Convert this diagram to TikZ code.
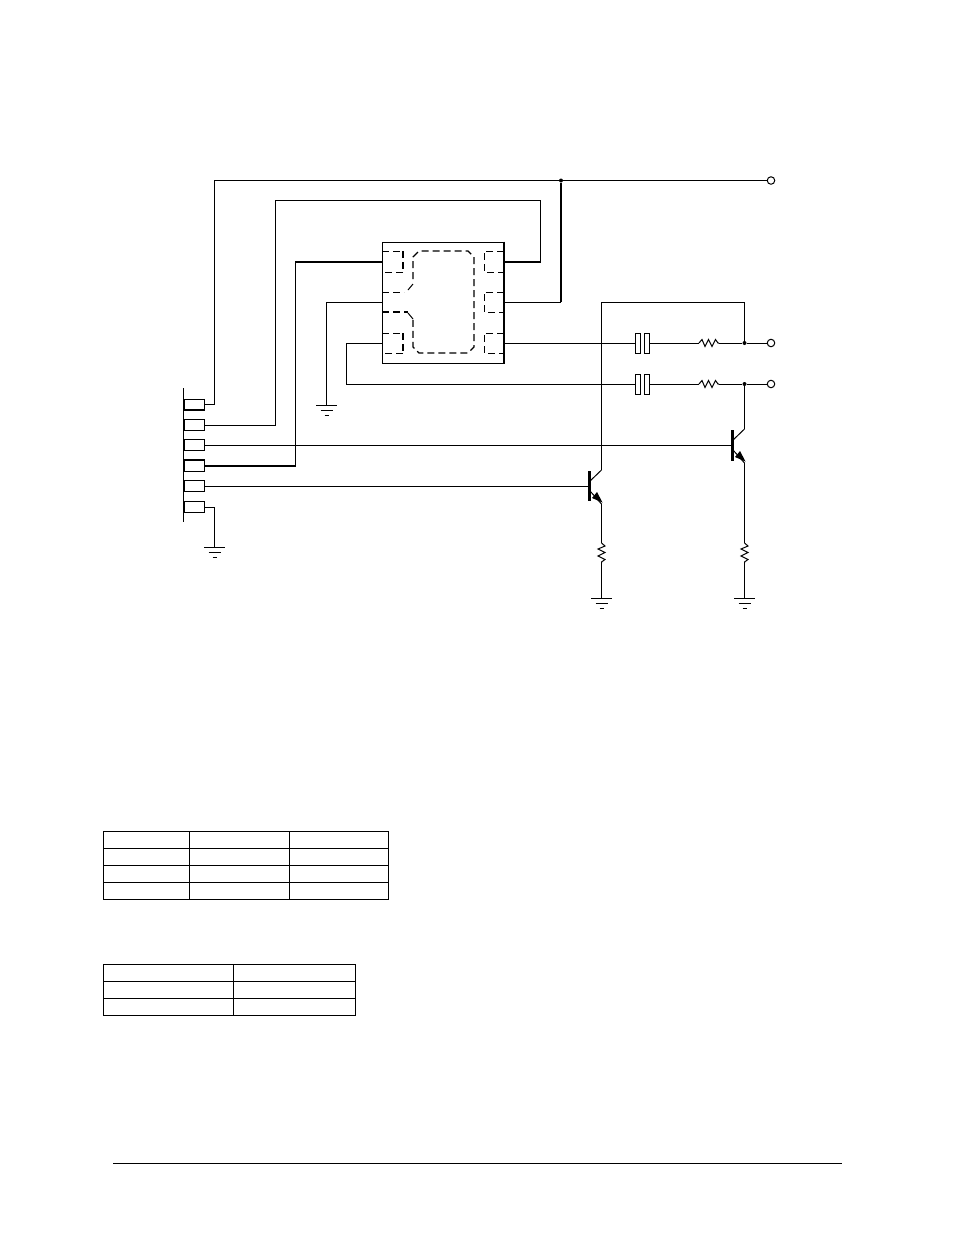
\documentclass[tikz,border=0pt]{standalone}
\usetikzlibrary{arrows.meta}
\tikzset{
  wire/.style={line width=1pt,line join=miter},
  heavy/.style={line width=1.8pt},
  dashline/.style={line width=1pt,dash pattern=on 7pt off 4pt},
  termcirc/.style={circle,draw,line width=1pt,fill=white,minimum size=7.5pt,inner sep=0pt},
  junct/.style={circle,fill=black,minimum size=4pt,inner sep=0pt},
  capplate/.style={draw,line width=1pt,fill=white,minimum width=5pt,minimum height=20pt,inner sep=0pt},
  pinbox/.style={draw,line width=1pt,minimum width=20pt,minimum height=10.5pt,inner sep=0pt},
  gnd/.pic={\draw[wire] (-10.5,0)--(10.5,0) (-6,5)--(6,5) (-2,10)--(2,10);},
  resh/.pic={\draw[wire] (0,0)--(3,-3.5)--(6,3.5)--(9.5,-3.5)--(13,3.5)--(16.5,-3.5)--(19,0)--(20,0);},
  resv/.pic={\draw[wire] (0,0)--(3.5,3)--(-3.5,6)--(3.5,9.5)--(-3.5,13)--(3.5,16.5)--(0,19)--(0,20);},
}
\begin{document}
\begin{tikzpicture}[x=1pt,y=-1pt]
\useasboundingbox[fill=white] (0,0) rectangle (954,1235);

% chip
\node[draw,line width=1pt,minimum width=122pt,minimum height=121.5pt,inner sep=0pt,anchor=north west] (chip) at (382,241.5) {};
\draw[line width=1.6pt] (504,241.5)--(504,363);
\foreach \n/\y in {L1/262,L2/302,L3/343}{\coordinate (\n) at (382,\y);}
\foreach \n/\y in {R1/262,R2/302,R3/343}{\coordinate (\n) at (504,\y);}

% dashed internals
\draw[dashline] (382,251)--(403,251);
\draw[line width=1.3pt,dash pattern=on 7pt off 4pt] (403,251)--(403,272);
\draw[dashline] (403,272)--(382,272);
\draw[dashline] (382,333)--(403,333);
\draw[line width=1.3pt,dash pattern=on 7pt off 4pt] (403,333)--(403,353);
\draw[dashline] (403,353)--(382,353);
\draw[dashline] (504,251)--(484,251)--(484,272)--(504,272);
\draw[dashline] (504,292)--(484,292)--(484,312)--(504,312);
\draw[dashline] (504,333)--(484,333)--(484,353)--(504,353);
\draw[dashline] (382,292)--(404,292);
\draw[wire] (408,290)--(413,284);
\draw[line width=1.2pt,dash pattern=on 7pt off 4pt] (413,279)--(413,257)--(419,251)--(468,251)--(474,257)--(474,347)--(468,353)--(419,353)--(413,347)--(413,319);
\draw[wire] (413,319)--(408,313);
\draw[line width=1.6pt,dash pattern=on 7pt off 4pt] (382,312)--(408,312);

% connector
\coordinate (barT) at (183.5,388);
\coordinate (barB) at (183.5,522);
\draw[wire] (barT)--(barB);
\foreach \n/\y in {1/404.5,2/425,3/445,4/466,5/486,6/507}{
  \node[pinbox,anchor=west] (P\n) at (183.5,\y) {};
  \draw[line width=1.6pt] (P\n.north east)--(P\n.south east);
}
\draw[line width=1.6pt] (P1.south west)--(P1.south east);
\draw[line width=1.6pt] (P4.north west)--(P4.north east);

% terminals
\node[termcirc] (T1) at (771,180.5) {};
\node[termcirc] (T2) at (771,343) {};
\node[termcirc] (T3) at (771,384) {};
\node[junct] (J1) at (561,180.5) {};
\node[junct] (J2) at (744.5,343) {};
\node[junct] (J3) at (744.5,384) {};

% coupling capacitors
\node[capplate] (C1a) at (637.5,343) {};
\node[capplate] (C1b) at (646.5,343) {};
\node[capplate] (C2a) at (637.5,384) {};
\node[capplate] (C2b) at (646.5,384) {};

% resistors
\pic at (699,343) {resh};
\pic at (699,384) {resh};
\coordinate (RH1a) at (699,343); \coordinate (RH1b) at (719,343);
\coordinate (RH2a) at (699,384); \coordinate (RH2b) at (719,384);
\pic at (601.5,543) {resv};
\pic at (744.5,543) {resv};
\coordinate (RV1a) at (601.5,543); \coordinate (RV1b) at (601.5,563);
\coordinate (RV2a) at (744.5,543); \coordinate (RV2b) at (744.5,563);

% grounds
\pic at (214.5,547) {gnd};
\pic at (326.5,405) {gnd};
\pic at (601.5,598) {gnd};
\pic at (744.5,598) {gnd};
\coordinate (G1) at (214.5,547);
\coordinate (G2) at (326.5,405);
\coordinate (G3) at (601.5,598);
\coordinate (G4) at (744.5,598);

% transistors
\coordinate (Q1base) at (588,486);
\coordinate (Q1c) at (601.5,470);
\coordinate (Q1e) at (601.5,504);
\coordinate (Q2base) at (731,445);
\coordinate (Q2c) at (744.5,429);
\coordinate (Q2e) at (744.5,463);
\draw[line width=3pt] (589,471)--(589,501);
\draw[line width=3pt] (732,430)--(732,461);
\draw[wire] (589,482)--(Q1c);
\draw[wire] (732,441)--(Q2c);
\draw[wire] (590,491)--(Q1e);
\draw[wire] (733,450)--(Q2e);
\fill (602.5,502.5)--(592,498)--(597,492)--cycle;
\fill (745.5,461.5)--(735,457)--(740,451)--cycle;

% wiring
\draw[wire] (P1.east)--(214.5,404.5)--(214.5,180.5)--(J1)--(T1);
\draw[wire] (P2.east)--(275,425)--(275,200.5)--(540.5,200.5)--(540.5,262);
\draw[heavy] (540.5,262)--(R1);
\draw[wire] (P3.east)--(Q2base);
\draw[heavy] (P4.east)--(295.5,466)--(295.5,262)--(L1);
\draw[wire] (P5.east)--(Q1base);
\draw[wire] (P6.east)--(214.5,507)--(G1);
\draw[heavy] (J1)--(561,302);
\draw[wire] (561,302)--(R2);
\draw[wire] (L2)--(326.5,302)--(G2);
\draw[wire] (L3)--(346.5,343)--(346.5,384)--(C2a.west);
\draw[wire] (R3)--(C1a.west);
\draw[wire] (C1b.east)--(RH1a);
\draw[wire] (RH1b)--(J2)--(T2);
\draw[wire] (C2b.east)--(RH2a);
\draw[wire] (RH2b)--(J3)--(T3);
\draw[wire] (J2)--(744.5,302)--(601.5,302)--(Q1c);
\draw[wire] (J3)--(Q2c);
\draw[wire] (Q1e)--(RV1a);
\draw[wire] (RV1b)--(G3);
\draw[wire] (Q2e)--(RV2a);
\draw[wire] (RV2b)--(G4);

% tables
\draw[wire] (103.5,831.5) rectangle (388.5,899.5);
\foreach \y in {848.5,865.5,882.5}{\draw[wire] (103.5,\y)--(388.5,\y);}
\foreach \x in {189,289.5}{\draw[wire] (\x,831.5)--(\x,899.5);}
\draw[wire] (103.5,964.5) rectangle (355.5,1015.5);
\foreach \y in {981.5,998.5}{\draw[wire] (103.5,\y)--(355.5,\y);}
\draw[wire] (233.5,964.5)--(233.5,1015.5);

% footer rule
\draw[wire] (113,1163)--(842,1163);
\end{tikzpicture}
\end{document}
